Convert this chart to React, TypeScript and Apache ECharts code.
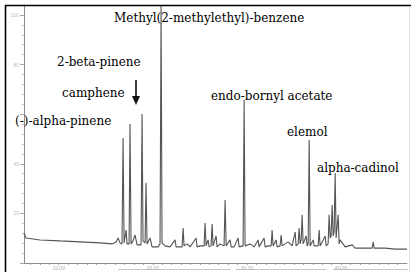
import React, { useEffect, useRef } from "react";
import * as echarts from "echarts";

// Retention time (min) of each point of the trace
const retentionTimes = [
  6.32, 6.53, 8.02, 10.14, 12.27, 14.40, 15.67, 16.10, 16.31, 16.52,
  16.73, 16.84, 16.95, 17.16, 17.26, 17.48, 17.58, 17.69, 17.90, 18.11,
  18.33, 18.75, 18.86, 18.96, 19.18, 19.28, 19.39, 19.71, 19.92, 20.56,
  20.77, 20.88, 20.98, 21.30, 21.83, 22.37, 22.47, 23.11, 23.22, 23.32,
  23.64, 23.96, 24.60, 24.70, 25.02, 25.45, 25.55, 25.66, 25.87, 25.98,
  26.19, 26.30, 26.40, 26.72, 26.83, 27.15, 27.57, 27.68, 27.79, 28.21,
  28.32, 28.64, 29.06, 29.17, 29.59, 29.70, 29.80, 30.34, 30.76, 31.19,
  31.29, 31.82, 31.93, 32.25, 32.57, 32.67, 32.78, 33.10, 33.20, 33.52,
  33.63, 33.74, 34.37, 34.80, 35.12, 35.22, 35.44, 35.54, 35.65, 35.76,
  35.86, 35.97, 36.29, 36.39, 36.50, 36.61, 36.71, 37.03, 37.14, 37.56,
  37.67, 37.77, 38.31, 38.41, 38.62, 38.73, 38.84, 38.94, 39.05, 39.16,
  39.26, 39.37, 39.47, 39.69, 39.79, 39.90, 40.43, 41.18, 41.49, 42.03,
  43.30, 43.41, 43.51, 44.68, 45.75, 47.00,
];

// Detector abundance (relative) at each time
const intensities = [
  12.1, 10.1, 9.3, 8.9, 8.5, 8.1, 7.7, 8.5, 10.1, 8.1,
  7.7, 50.4, 8.1, 13.3, 7.7, 7.7, 56.0, 7.7, 8.9, 11.3,
  7.3, 7.3, 60.1, 8.9, 8.1, 32.3, 7.7, 10.1, 6.5, 6.5,
  7.7, 104.0, 8.1, 6.9, 6.5, 9.3, 6.5, 6.5, 14.1, 6.9,
  7.7, 6.5, 10.1, 6.5, 6.9, 6.9, 16.1, 6.9, 9.3, 6.5,
  6.9, 15.7, 6.9, 10.9, 6.5, 7.7, 6.9, 25.4, 6.9, 9.3,
  6.5, 6.5, 10.1, 6.5, 6.9, 65.7, 6.9, 7.7, 6.5, 9.3,
  6.5, 10.1, 6.5, 6.9, 6.9, 13.3, 6.9, 9.3, 6.5, 6.9,
  11.3, 6.9, 8.5, 6.9, 12.5, 6.9, 7.7, 14.1, 7.7, 9.3,
  19.4, 7.7, 10.9, 6.9, 7.7, 49.6, 6.9, 9.3, 6.9, 6.9,
  13.3, 6.9, 10.9, 6.9, 7.7, 19.4, 10.1, 10.9, 23.4, 10.9,
  12.5, 36.3, 10.1, 19.4, 7.7, 9.3, 6.5, 7.3, 6.0, 6.0,
  6.0, 8.5, 6.0, 6.0, 5.6, 5.6,
];

const xTickValues = [10, 20, 30, 40];
const xTickLabels = ["10.00", "20.00", "30.00", "40.00"];
const yTickValues = [20, 40, 80, 100];

const compoundNames = [
  "Methyl(2-methylethyl)-benzene",
  "2-beta-pinene",
  "camphene",
  "(-)-alpha-pinene",
  "endo-bornyl acetate",
  "elemol",
  "alpha-cadinol",
];

export default function App() {
  const ref = useRef<HTMLDivElement>(null);

  useEffect(() => {
    if (!ref.current) return;
    const chart = echarts.init(ref.current, undefined, { renderer: "svg" });

    const font = '"DejaVu Serif", "Liberation Serif", serif';
    const labelPos: [number, number][] = [
      [114, 18],
      [57, 62],
      [62, 93],
      [15, 121],
      [211, 96],
      [287, 132],
      [317, 168],
    ];
    const labels = compoundNames.map((name, i) => ({
      type: "text",
      x: labelPos[i][0],
      y: labelPos[i][1],
      z: 10,
      style: {
        text: name,
        fontFamily: font,
        fontSize: 12,
        fontWeight: "normal",
        fill: "#000",
        verticalAlign: "middle",
      },
    }));

    chart.setOption({
      animation: false,
      backgroundColor: "#fff",
      grid: { left: 21, right: 4, top: 5, bottom: 9 },
      xAxis: {
        type: "value",
        min: 6,
        max: 47,
        interval: 1,
        axisLine: { lineStyle: { color: "#8c8c8c", width: 1 } },
        axisTick: { length: 2, lineStyle: { color: "#a0a0a0" } },
        axisLabel: {
          fontSize: 5,
          color: "#b0b0b0",
          margin: 2,
          showMinLabel: false,
          showMaxLabel: false,
          formatter: (v: number) => {
            const k = xTickValues.indexOf(Math.round(v));
            return k >= 0 && Math.abs(v - xTickValues[k]) < 1e-6 ? xTickLabels[k] : "";
          },
        },
        splitLine: { show: false },
      },
      yAxis: {
        type: "value",
        min: 0,
        max: 104,
        interval: 20,
        offset: -3,
        axisLine: { show: true, lineStyle: { color: "#8c8c8c", width: 1 } },
        axisTick: { show: true, length: 4, lineStyle: { color: "#a8a8a8" } },
        minorTick: { show: true, splitNumber: 5, length: 2, lineStyle: { color: "#c0c0c0" } },
        axisLabel: {
          fontSize: 5,
          color: "#bdbdbd",
          margin: 5,
          showMinLabel: false,
          showMaxLabel: false,
          formatter: (v: number) => (yTickValues.indexOf(v) >= 0 ? String(v) : ""),
        },
        splitLine: { show: false },
      },
      series: [
        {
          type: "line",
          data: retentionTimes.map((t, i) => [t, intensities[i]]),
          symbol: "none",
          lineStyle: { color: "#555", width: 1.1 },
          clip: true,
        },
      ],
      graphic: [
        // outer frame
        { type: "line", shape: { x1: 5, y1: 5.5, x2: 411, y2: 5.5 }, style: { stroke: "#000", lineWidth: 1.6 }, z: 20 },
        { type: "line", shape: { x1: 5.5, y1: 5, x2: 5.5, y2: 272 }, style: { stroke: "#000", lineWidth: 1.6 }, z: 20 },
        { type: "line", shape: { x1: 409.5, y1: 6, x2: 409.5, y2: 272 }, style: { stroke: "#ddd", lineWidth: 1 }, z: 20 },
        // light underline segments below x axis
        { type: "line", shape: { x1: 118, y1: 269.5, x2: 230, y2: 269.5 }, style: { stroke: "#c4c4c4", lineWidth: 1 } },
        { type: "line", shape: { x1: 236, y1: 269.5, x2: 326, y2: 269.5 }, style: { stroke: "#c4c4c4", lineWidth: 1 } },
        { type: "line", shape: { x1: 333, y1: 269.5, x2: 408, y2: 269.5 }, style: { stroke: "#c4c4c4", lineWidth: 1 } },
        // arrow
        { type: "line", shape: { x1: 136, y1: 80, x2: 136, y2: 98 }, style: { stroke: "#111", lineWidth: 1.6 }, z: 10 },
        {
          type: "polygon",
          shape: { points: [[132, 96], [140, 96], [136, 105]] },
          style: { fill: "#111" },
          z: 10,
        },
        ...labels,
      ],
    });

    return () => chart.dispose();
  }, []);

  return (
    <div
      ref={ref}
      style={{ position: "absolute", left: 0, top: 0, width: 411, height: 272, background: "#fff" }}
    />
  );
}
